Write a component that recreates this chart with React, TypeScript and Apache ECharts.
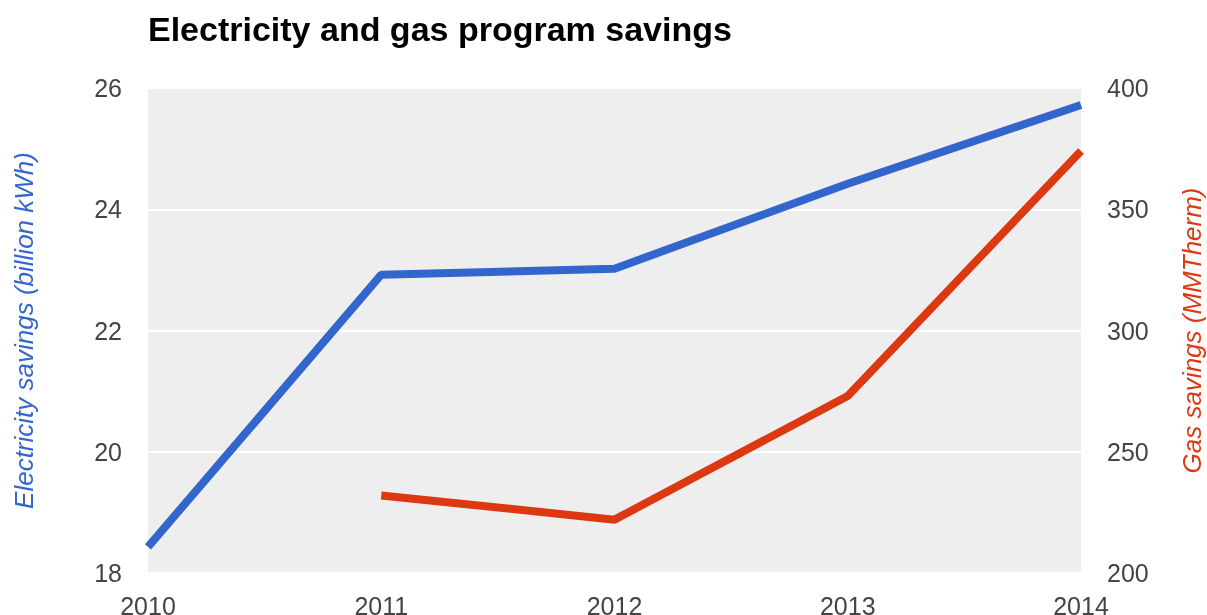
import React, { useEffect, useRef } from "react";
import * as echarts from "echarts";

const years = ["2010", "2011", "2012", "2013", "2014"];
const electricity = [18.43, 22.92, 23.02, 24.42, 25.72];
const gas: (number | null)[] = [null, 232, 222, 273, 374];
const titleText = "Electricity and gas program savings";
const leftName = "Electricity savings (billion kWh)";
const rightName = "Gas savings (MMTherm)";

export default function App() {
  const ref = useRef<HTMLDivElement>(null);
  useEffect(() => {
    const chart = echarts.init(ref.current!, null, { renderer: "svg" });
    const font = "Arial, 'Liberation Sans', sans-serif";
    chart.setOption({
      animation: false,
      textStyle: { fontFamily: font },
      title: {
        text: titleText,
        left: 143,
        top: 7,
        textStyle: { fontSize: 34, fontWeight: "bold", color: "#000", fontFamily: font },
      },
      grid: {
        left: 148,
        right: 126,
        top: 88,
        bottom: 42,
        containLabel: false,
        outerBoundsMode: "none",
        show: true,
        backgroundColor: "#eeeeee",
        borderWidth: 0,
      },
      xAxis: {
        type: "category",
        data: years,
        boundaryGap: false,
        axisLine: { show: false },
        axisTick: { show: false },
        axisLabel: { color: "#444", fontSize: 25, margin: 20, fontFamily: font },
        splitLine: { show: false },
      },
      yAxis: [
        {
          type: "value",
          min: 18,
          max: 26,
          interval: 2,
          position: "left",
          name: leftName,
          nameLocation: "middle",
          nameRotate: 90,
          nameGap: 111,
          nameTextStyle: { color: "#3366cc", fontSize: 26, fontStyle: "italic", fontFamily: font },
          axisLine: { show: false },
          axisTick: { show: false },
          axisLabel: { color: "#444", fontSize: 25, margin: 26, fontFamily: font },
          splitLine: { show: true, lineStyle: { color: "#ffffff", width: 2 } },
        },
        {
          type: "value",
          min: 200,
          max: 400,
          interval: 50,
          position: "right",
          name: rightName,
          nameLocation: "middle",
          nameRotate: 90,
          nameGap: 98,
          nameTextStyle: { color: "#dc3912", fontSize: 26, fontStyle: "italic", fontFamily: font },
          axisLine: { show: false },
          axisTick: { show: false },
          axisLabel: { color: "#444", fontSize: 25, margin: 26, fontFamily: font },
          splitLine: { show: false },
        },
      ],
      series: [
        {
          name: "Electricity",
          type: "line",
          data: electricity,
          yAxisIndex: 0,
          symbol: "none",
          clip: true,
          lineStyle: { color: "#3366cc", width: 8 },
          itemStyle: { color: "#3366cc" },
        },
        {
          name: "Gas",
          type: "line",
          data: gas,
          yAxisIndex: 1,
          symbol: "none",
          clip: true,
          lineStyle: { color: "#dc3912", width: 8 },
          itemStyle: { color: "#dc3912" },
        },
      ],
    });
    return () => chart.dispose();
  }, []);
  return (
    <div
      ref={ref}
      style={{ position: "fixed", left: 0, top: 0, width: 1207, height: 615 }}
    />
  );
}
